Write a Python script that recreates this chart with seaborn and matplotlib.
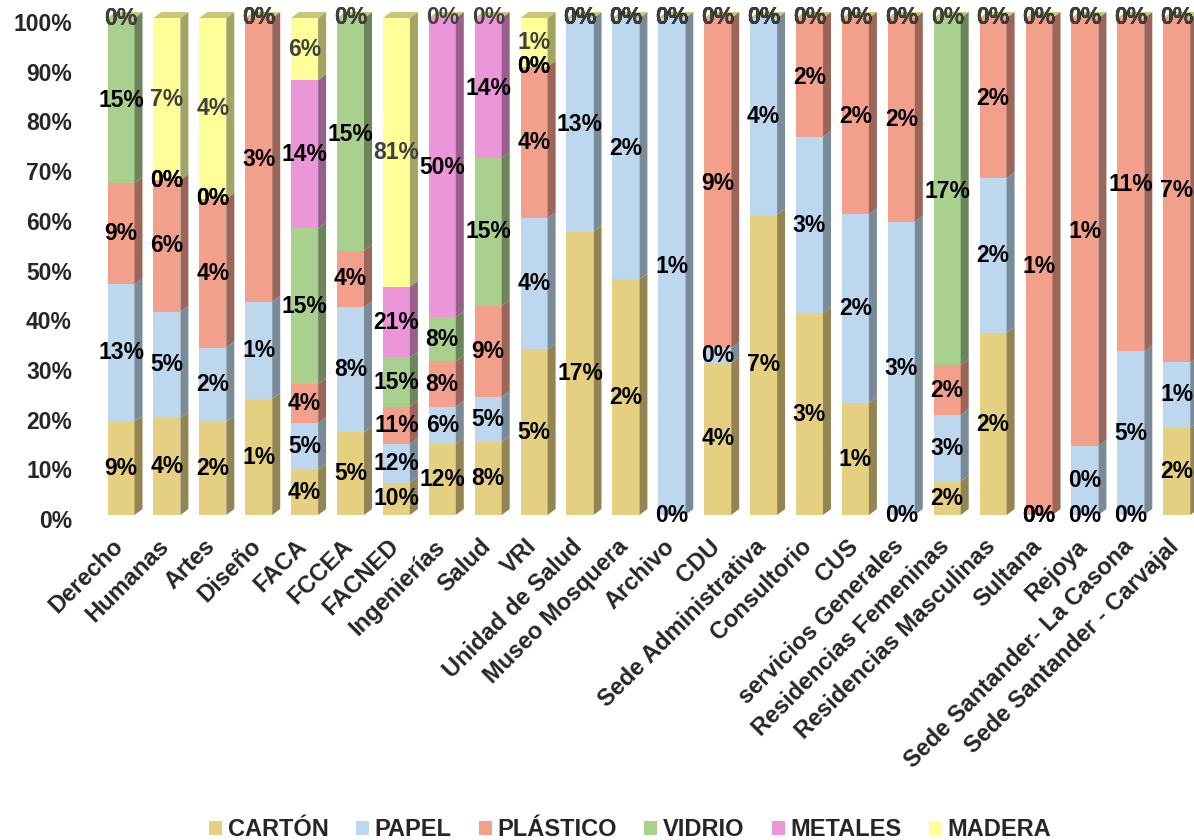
import matplotlib
matplotlib.use("Agg")
import matplotlib.pyplot as plt
import seaborn as sns
import numpy as np
from matplotlib.patches import Polygon, Patch
from matplotlib.transforms import ScaledTranslation
from matplotlib.colors import to_rgb

# ---- data -----------------------------------------------------------------
dependencias = [
    "Derecho", "Humanas", "Artes", "Diseño", "FACA", "FCCEA", "FACNED",
    "Ingenierías", "Salud", "VRI", "Unidad de Salud", "Museo Mosquera",
    "Archivo", "CDU", "Sede Administrativa", "Consultorio", "CUS",
    "servicios Generales", "Residencias Femeninas", "Residencias Masculinas",
    "Sultana", "Rejoya", "Sede Santander- La Casona", "Sede Santander - Carvajal",
]
materiales = ["CARTÓN", "PAPEL", "PLÁSTICO", "VIDRIO", "METALES", "MADERA"]

# composition of the waste of each dependency (% of the dependency's total)
comp_carton   = [18.8, 19.5, 18.8, 23.3, 9.1, 16.6, 6.5, 14.3, 14.7, 33.3, 57.0, 47.4,
                 0.0, 30.6, 60.4, 40.6, 22.5, 0.0, 6.8, 36.6, 0.0, 0.0, 0.0, 17.6]
comp_papel    = [27.6, 21.4, 14.9, 19.6, 9.4, 25.2, 7.8, 7.5, 9.1, 26.4, 43.0, 52.6,
                 100.0, 3.0, 39.6, 35.5, 38.0, 59.0, 13.3, 31.2, 0.0, 13.9, 32.9, 13.1]
comp_plastico = [20.4, 26.5, 29.9, 57.1, 7.8, 11.4, 7.5, 9.1, 18.3, 30.5, 0.0, 0.0,
                 0.0, 66.4, 0.0, 23.9, 39.5, 41.0, 10.1, 32.2, 100.0, 86.1, 67.1, 69.3]
comp_vidrio   = [33.2, 0.0, 0.0, 0.0, 31.4, 46.8, 9.9, 8.9, 29.7, 0.0, 0.0, 0.0,
                 0.0, 0.0, 0.0, 0.0, 0.0, 0.0, 69.8, 0.0, 0.0, 0.0, 0.0, 0.0]
comp_metales  = [0.0, 0.0, 0.0, 0.0, 29.8, 0.0, 14.2, 60.2, 28.2, 0.0, 0.0, 0.0,
                 0.0, 0.0, 0.0, 0.0, 0.0, 0.0, 0.0, 0.0, 0.0, 0.0, 0.0, 0.0]
comp_madera   = [0.0, 32.6, 36.4, 0.0, 12.5, 0.0, 54.1, 0.0, 0.0, 9.8, 0.0, 0.0,
                 0.0, 0.0, 0.0, 0.0, 0.0, 0.0, 0.0, 0.0, 0.0, 0.0, 0.0, 0.0]

# share of each material's grand total produced by the dependency (%)
part_carton   = [9, 4, 2, 1, 4, 5, 10, 12, 8, 5, 17, 2, 0, 4, 7, 3, 1, 0, 2, 2, 0, 0, 0, 2]
part_papel    = [13, 5, 2, 1, 5, 8, 12, 6, 5, 4, 13, 2, 1, 0, 4, 3, 2, 3, 3, 2, 0, 0, 5, 1]
part_plastico = [9, 6, 4, 3, 4, 4, 11, 8, 9, 4, 0, 0, 0, 9, 0, 2, 2, 2, 2, 2, 1, 1, 11, 7]
part_vidrio   = [15, 0, 0, 0, 15, 15, 15, 8, 15, 0, 0, 0, 0, 0, 0, 0, 0, 0, 17, 0, 0, 0, 0, 0]
part_metales  = [0, 0, 0, 0, 14, 0, 21, 50, 14, 0, 0, 0, 0, 0, 0, 0, 0, 0, 0, 0, 0, 0, 0, 0]
part_madera   = [0, 7, 4, 0, 6, 0, 81, 0, 0, 1, 0, 0, 0, 0, 0, 0, 0, 0, 0, 0, 0, 0, 0, 0]

colores = ["#E5D081", "#BDD7EE", "#F29F8B", "#A9D08E", "#EA96D9", "#FFFF99"]

# ---- style ----------------------------------------------------------------
sns.set_theme(style="white")
plt.rcParams["font.family"] = ["Liberation Sans", "DejaVu Sans"]
plt.rcParams["font.weight"] = "bold"
FS = 16.5

comp = np.array([comp_carton, comp_papel, comp_plastico,
                 comp_vidrio, comp_metales, comp_madera], dtype=float)
comp = comp / comp.sum(axis=0) * 100.0
partes = [part_carton, part_papel, part_plastico, part_vidrio, part_metales, part_madera]

fig = plt.figure(figsize=(11.94, 8.4), dpi=100)
ax = fig.add_axes([80 / 1194, 325 / 840, 1114 / 1194, 505 / 840])

n = len(dependencias)
x = np.arange(n)
px_x = 45.9                     # pixels per category step
px_y = 4.97                     # pixels per percentage point
first_px = 121                  # pixel centre of the first column
width = 27 / px_x
dx = 8 / px_x                   # depth offset of the 3-D faces
dy = 6 / px_y

ax.set_xlim(-(first_px - 80) / px_x, -(first_px - 80) / px_x + 1114 / px_x)
ax.set_ylim(0, 505 / px_y)


def shade(color, f):
    r, g, b = to_rgb(color)
    return (r * f, g * f, b * f)


bottom = np.zeros(n)
for k, mat in enumerate(materiales):
    h = comp[k]
    ax.bar(x, h, width=width, bottom=bottom, color=colores[k],
           edgecolor="none", zorder=2)
    for i in range(n):
        if h[i] <= 0:
            continue
        xr = x[i] + width / 2
        y0, y1 = bottom[i], bottom[i] + h[i]
        ax.add_patch(Polygon([(xr, y0), (xr + dx, y0 + dy), (xr + dx, y1 + dy), (xr, y1)],
                             closed=True, facecolor=shade(colores[k], 0.64),
                             edgecolor="none", zorder=2))
    bottom = bottom + h

# top faces (the last series sits on top of every column)
for i in range(n):
    xl, xr = x[i] - width / 2, x[i] + width / 2
    top = bottom[i]
    ax.add_patch(Polygon([(xl, top), (xr, top), (xr + dx, top + dy), (xl + dx, top + dy)],
                         closed=True, facecolor=shade(colores[-1], 0.78),
                         edgecolor="none", zorder=2))

# value labels
base = np.zeros(n)
for k, mat in enumerate(materiales):
    h = comp[k]
    col = "#404040" if mat == "MADERA" else "black"
    for i in range(n):
        ax.text(x[i], base[i] + h[i] / 2, f"{partes[k][i]}%", ha="center", va="center",
                fontsize=FS, fontweight="bold", color=col, zorder=5)
    base = base + h

# axes
for s in ax.spines.values():
    s.set_visible(False)
ax.grid(False)
ax.set_yticks(np.arange(0, 101, 10))
ax.set_yticklabels([f"{v}%" for v in range(0, 101, 10)], fontsize=FS, fontweight="bold")
ax.tick_params(axis="y", length=0, pad=5.8)
for lab in ax.get_yticklabels():
    lab.set_transform(lab.get_transform() + ScaledTranslation(0, -0.04, fig.dpi_scale_trans))

ax.set_xticks(x)
ax.set_xticklabels(dependencias, rotation=45, ha="right", va="center",
                   rotation_mode="anchor", fontsize=17, fontweight="bold")
ax.tick_params(axis="x", length=0, pad=0)
for lab in ax.get_xticklabels():
    lab.set_transform(lab.get_transform() + ScaledTranslation(-0.01, -0.28, fig.dpi_scale_trans))

handles = [Patch(facecolor=c, edgecolor="none") for c in colores]
fig.legend(handles, materiales, loc="center", bbox_to_anchor=(630 / 1194, 10 / 840),
           ncol=6, frameon=False, prop={"size": 17, "weight": "bold"},
           handlelength=0.55, handleheight=0.55, handletextpad=0.25,
           columnspacing=1.15, borderpad=0, borderaxespad=0)

fig.savefig("out.png", dpi=100)
